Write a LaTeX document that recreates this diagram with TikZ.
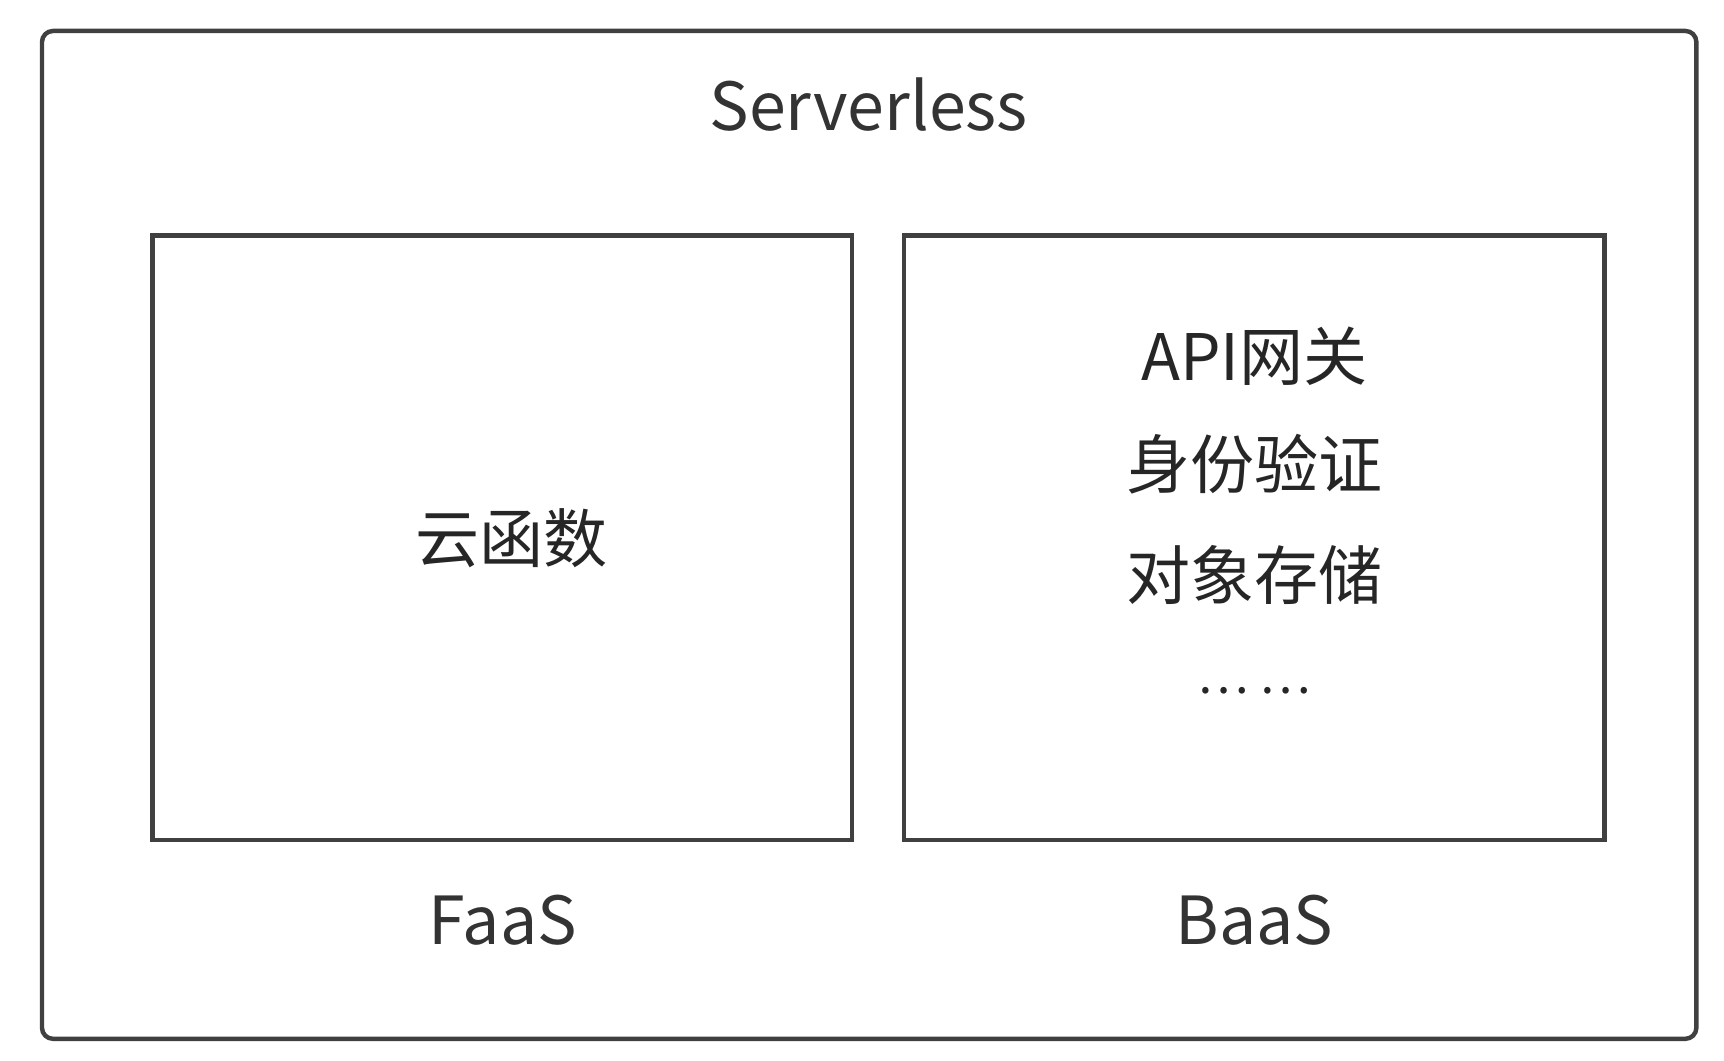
\documentclass[tikz,border=0pt]{standalone}
\usepackage{fontspec}
\setmainfont{Noto Sans CJK SC}
\begin{document}
\begin{tikzpicture}[x=1pt,y=-1pt,
  box/.style={draw=black!75,line width=4pt},
  lbl/.style={font=\fontsize{60}{72}\selectfont,text=black!80},
  cjk/.style={font=\fontsize{58}{100}\selectfont,text=black!85,align=center}]
\useasboundingbox (0,0) rectangle (1560,960);
\draw[box,rounded corners=10pt] (38,28) rectangle (1535,940);
\node[box,minimum width=633pt,minimum height=547pt,inner sep=0pt] (faas) at (454.5,486.5) {};
\node[box,minimum width=634pt,minimum height=547pt,inner sep=0pt] (baas) at (1135,486.5) {};
\node[lbl] (title) at (786,95) {Serverless};
\node[lbl] (fl) at (455,833) {FaaS};
\node[lbl] (bl) at (1135,833) {BaaS};
\node[cjk] (yun) at (463,487) {云函数};
\node[cjk] (a1) at (1135,322) {API网关};
\node[cjk] (a2) at (1135,420) {身份验证};
\node[cjk] (a3) at (1135,520) {对象存储};
\node[cjk,font=\fontsize{44}{50}\selectfont] (a4) at (1135,625) {… …};
\end{tikzpicture}
\end{document}
